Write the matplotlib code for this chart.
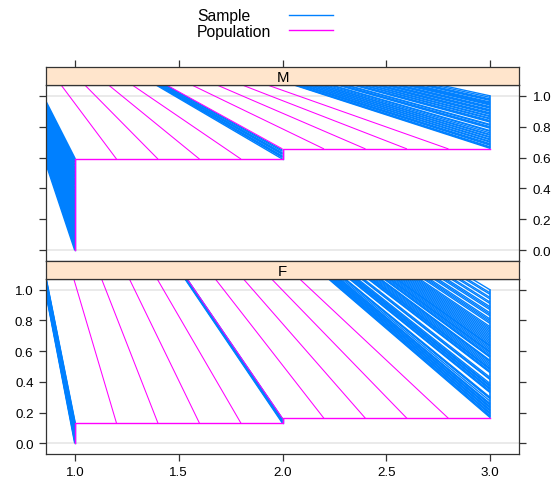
import numpy as np
import matplotlib.pyplot as plt
from matplotlib.collections import LineCollection
from matplotlib.lines import Line2D

plt.rcParams['font.family'] = ['Liberation Sans', 'DejaVu Sans']

W, H = 559, 485
BLUE = '#0080ff'
PINK = '#ff00ff'
EDGE = '#333333'

# panels, x levels and population cumulative levels at x = 1 and x = 2
panels = ['M', 'F']
x_ticks = [1.0, 1.5, 2.0, 2.5, 3.0]
y_ticks = [0.0, 0.2, 0.4, 0.6, 0.8, 1.0]
pop_level = {'M': [0.59, 0.656], 'F': [0.13, 0.162]}
pop_hatch_x = [1.2, 1.4, 1.6, 1.8, 2.0, 2.2, 2.4, 2.6, 2.8]

# sample values (start points of the blue lines) at x = 1, 2, 3
samp_M_1 = [0.00, 0.02, 0.03, 0.05, 0.07, 0.08, 0.10, 0.12, 0.13, 0.15, 0.17,
            0.18, 0.20, 0.22, 0.23, 0.25, 0.27, 0.28, 0.30, 0.32, 0.33, 0.35,
            0.37, 0.38, 0.40, 0.42, 0.43, 0.45, 0.47, 0.48, 0.50, 0.52, 0.53,
            0.55, 0.57, 0.59]
samp_M_2 = [0.59, 0.60, 0.605, 0.61, 0.62, 0.625, 0.63, 0.64, 0.648]
samp_M_3 = [0.66, 0.665, 0.67, 0.68, 0.685, 0.69, 0.70, 0.705, 0.715, 0.72,
            0.73, 0.735, 0.745, 0.75, 0.76, 0.77, 0.775, 0.79, 0.795, 0.80,
            0.81, 0.815, 0.83, 0.835, 0.84, 0.85, 0.855, 0.865, 0.87, 0.88,
            0.885, 0.89, 0.90, 0.905, 0.91, 0.92, 0.925, 0.93, 0.94, 0.945,
            0.95, 0.955, 0.96, 0.97, 0.975, 0.98, 0.99, 1.0]
samp_F_1 = [0.0, 0.012, 0.02, 0.033, 0.041, 0.05, 0.062, 0.07, 0.081, 0.09,
            0.102, 0.11, 0.12, 0.128]
samp_F_2 = [0.13, 0.136, 0.142, 0.148, 0.155, 0.16]
samp_F_3 = [0.168, 0.175, 0.18, 0.19, 0.195, 0.20, 0.21, 0.215, 0.22, 0.23,
            0.235, 0.24, 0.25, 0.255, 0.26, 0.275, 0.29, 0.295, 0.30, 0.33,
            0.335, 0.34, 0.35, 0.355, 0.36, 0.37, 0.375, 0.38, 0.39, 0.415,
            0.42, 0.43, 0.46, 0.465, 0.47, 0.48, 0.485, 0.49, 0.50, 0.51,
            0.52, 0.53, 0.535, 0.54, 0.56, 0.565, 0.57, 0.58, 0.59, 0.595,
            0.60, 0.61, 0.62, 0.63, 0.635, 0.64, 0.65, 0.66, 0.67, 0.68,
            0.69, 0.70, 0.71, 0.72, 0.73, 0.74, 0.75, 0.76, 0.78, 0.79,
            0.80, 0.81, 0.83, 0.84, 0.85, 0.87, 0.88, 0.89, 0.91, 0.92,
            0.94, 0.95, 0.97, 0.98, 1.0]
samples = {'M': [samp_M_1, samp_M_2, samp_M_3],
           'F': [samp_F_1, samp_F_2, samp_F_3]}

fig = plt.figure(figsize=(W / 100, H / 100), dpi=100)

left, width = 46 / W, 473 / W
strip_h = 18 / H
panel_box = {'M': (86, 262), 'F': (280, 455)}


def fig_y(px):
    return 1 - px / H


def fan(ax, xs, ys, color, lw):
    # every line runs off towards the top-left corner of the device
    px = ax.transData.inverted().transform((-13, H + 13))
    segs = [[(x, y), (px[0], px[1])] for x, y in zip(xs, ys)]
    lc = LineCollection(segs, colors=color, linewidths=lw)
    ax.add_collection(lc)


for name in panels:
    top, bot = panel_box[name]
    ax = fig.add_axes([left, fig_y(bot), width, (bot - top) / H])
    sax = fig.add_axes([left, fig_y(top), width, strip_h])
    ax.set_xlim(0.86, 3.14)
    ax.set_ylim(-0.07, 1.07)
    sax.set_xlim(0.86, 3.14)
    sax.set_facecolor('#ffe5cc')
    sax.text(0.5, 0.45, name, transform=sax.transAxes, ha='center',
             va='center', fontsize=10.8)
    for a in (ax, sax):
        for sp in a.spines.values():
            sp.set_color(EDGE)
            sp.set_linewidth(0.9)

    ax.axhline(0, color='#e6e6e6', lw=1.2, zorder=0)
    ax.axhline(1, color='#e6e6e6', lw=1.2, zorder=0)

    lv = pop_level[name]
    s1, s2, s3 = samples[name]
    fan(ax, [1] * len(s1), s1, BLUE, 1.5)
    fan(ax, [2] * len(s2), s2, BLUE, 1.0)
    fan(ax, [3] * len(s3), s3, BLUE, 0.95)
    ax.plot([1, 1], [0, max(s1)], color=BLUE, lw=1)
    ax.plot([2, 2], [min(s2), max(s2)], color=BLUE, lw=1)
    ax.plot([3, 3], [min(s3), max(s3)], color=BLUE, lw=1.2)

    hy = [lv[0] if x < 2 else lv[1] for x in pop_hatch_x]
    fan(ax, pop_hatch_x, hy, PINK, 0.75)
    ax.plot([1, 1, 2, 2, 3], [0, lv[0], lv[0], lv[1], lv[1]],
            color=PINK, lw=1)

    ax.set_xticks(x_ticks)
    ax.set_xticklabels(['%.1f' % v for v in x_ticks])
    ax.set_yticks(y_ticks)
    ax.set_yticklabels(['%.1f' % v for v in y_ticks])
    ax.tick_params(direction='out', length=5, width=0.9, color=EDGE,
                   labelsize=9.6, left=True, right=True)
    sax.set_yticks([])
    if name == 'M':
        ax.tick_params(labelleft=False, labelright=True, bottom=False,
                       labelbottom=False, pad=5)
        sax.set_xticks(x_ticks)
        sax.tick_params(top=True, labeltop=False, bottom=False,
                        labelbottom=False, direction='out', length=5,
                        width=0.9, color=EDGE)
    else:
        ax.tick_params(labelleft=True, labelright=False, pad=4)
        sax.set_xticks([])

# key at the top
fig.text(197 / W, fig_y(17), 'Sample', fontsize=11.3, va='center')
fig.text(197 / W, fig_y(32), 'Population', fontsize=11.3, va='center')
fig.add_artist(Line2D([289 / W, 333 / W], [fig_y(16), fig_y(16)],
                      color=BLUE, lw=1))
fig.add_artist(Line2D([289 / W, 333 / W], [fig_y(31), fig_y(31)],
                      color=PINK, lw=1))

fig.savefig('out.png', dpi=100)
